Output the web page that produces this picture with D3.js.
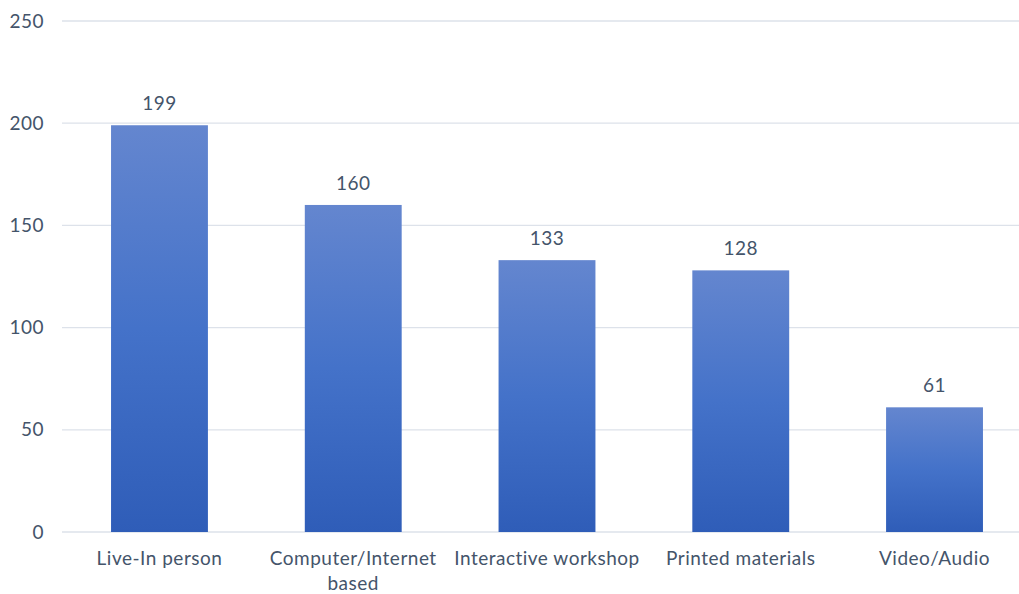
<!DOCTYPE html>
<html><head><meta charset="utf-8">
<script src="https://cdn.jsdelivr.net/npm/d3@7"></script>
<style>body{margin:0;background:#fff}</style></head>
<body><svg id="c" width="1019" height="594"></svg>
<script>
const categories = ["Live-In person", "Computer/Internet based", "Interactive workshop", "Printed materials", "Video/Audio"];
const labelLines = [["Live-In person"], ["Computer/Internet", "based"], ["Interactive workshop"], ["Printed materials"], ["Video/Audio"]];
const values = [199, 160, 133, 128, 61];
const yTicks = [0, 50, 100, 150, 200, 250];

const svg = d3.select("#c");
const font = "Lato, 'Open Sans', sans-serif";
const textColor = "#44546A";
const x = d3.scaleBand().domain(categories).range([62.6, 1031.4]).paddingInner(0.5).paddingOuter(0.25);
const y = d3.scaleLinear().domain([0, 250]).range([532, 21]);

const defs = svg.append("defs");
const g = defs.append("linearGradient").attr("id", "grad").attr("x1", 0).attr("y1", 0).attr("x2", 0).attr("y2", 1);
g.append("stop").attr("offset", "0%").attr("stop-color", "#6486cf");
g.append("stop").attr("offset", "50%").attr("stop-color", "#4472c9");
g.append("stop").attr("offset", "100%").attr("stop-color", "#2f5db8");

// gridlines
svg.append("g").selectAll("line").data(yTicks).join("line")
  .attr("x1", 62).attr("x2", 1019)
  .attr("y1", d => y(d)).attr("y2", d => y(d))
  .attr("stroke", "#dde2ea").attr("stroke-width", 1.3);

const txt = sel => sel.attr("font-family", font).attr("font-size", 19)
  .attr("letter-spacing", 0.5).attr("fill", textColor);

// y axis labels
svg.append("g").selectAll("text").data(yTicks).join("text")
  .attr("x", 44).attr("y", d => y(d)).attr("dy", "0.35em")
  .attr("text-anchor", "end").call(txt).text(d => d);

// bars
svg.append("g").selectAll("rect").data(values).join("rect")
  .attr("x", (d, i) => x(categories[i])).attr("width", x.bandwidth())
  .attr("y", d => y(d)).attr("height", d => y(0) - y(d))
  .attr("fill", "url(#grad)");

// value labels
svg.append("g").selectAll("text").data(values).join("text")
  .attr("x", (d, i) => x(categories[i]) + x.bandwidth() / 2)
  .attr("y", d => y(d) - 15)
  .attr("text-anchor", "middle").call(txt).text(d => d);

// category labels
const cl = svg.append("g").selectAll("text").data(categories).join("text")
  .attr("x", d => x(d) + x.bandwidth() / 2).attr("y", 565)
  .attr("text-anchor", "middle").call(txt);
cl.each(function(d, i) {
  const t = d3.select(this);
  labelLines[i].forEach((line, j) => {
    t.append("tspan").attr("x", x(d) + x.bandwidth() / 2).attr("dy", j === 0 ? 0 : 25).text(line);
  });
});
</script></body></html>
